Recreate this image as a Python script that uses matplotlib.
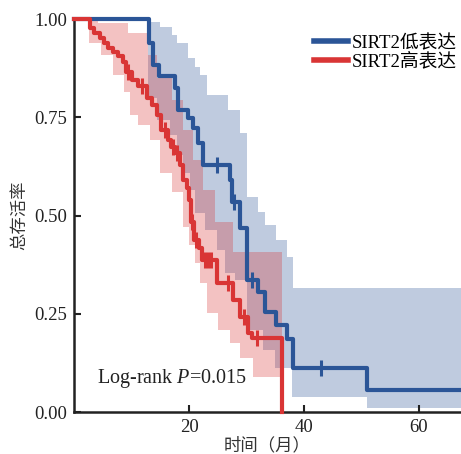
import numpy as np
import matplotlib
matplotlib.use("Agg")
import matplotlib.pyplot as plt

plt.rcParams['font.family'] = ['Liberation Serif', 'Noto Sans CJK SC']
plt.rcParams['mathtext.fontset'] = 'custom'
plt.rcParams['mathtext.rm'] = 'Liberation Serif'
plt.rcParams['mathtext.it'] = 'Liberation Serif:italic'

# ---- data ----
labels = ['SIRT2低表达', 'SIRT2高表达']
colors = ['#2b5597', '#d93535']
x_end = 67.3

# low expression (blue)
low_t = [0, 13.0, 13.7, 14.8, 17.6, 18.1, 19.8, 20.7, 21.6, 22.4, 27.1, 27.4, 28.9, 30.1, 32.0, 33.2, 35.1, 37.0, 38.1, 51.0]
low_s = [1.0, 0.939, 0.883, 0.855, 0.824, 0.768, 0.748, 0.723, 0.684, 0.628, 0.590, 0.534, 0.468, 0.336, 0.305, 0.254, 0.221, 0.186, 0.112, 0.056]
low_cens = [24.9, 27.8, 31.0, 43.0]
low_up_t = [0, 13.2, 15.0, 17.0, 17.9, 19.8, 21.0, 21.9, 23.1, 26.8, 28.9, 30.0, 32.0, 33.2, 35.1, 37.0, 38.1]
low_up_v = [1.0, 0.993, 0.98, 0.959, 0.938, 0.90, 0.879, 0.857, 0.807, 0.768, 0.71, 0.548, 0.51, 0.476, 0.438, 0.395, 0.316]
low_lo_t = [0, 12.9, 14.4, 16.7, 17.9, 19.0, 20.2, 21.0, 22.8, 24.9, 26.3, 28.0, 30.1, 32.9, 35.0, 37.9, 51.0]
low_lo_v = [1.0, 0.80, 0.743, 0.705, 0.654, 0.608, 0.565, 0.506, 0.463, 0.412, 0.354, 0.336, 0.209, 0.158, 0.112, 0.038, 0.01]

# high expression (red)
high_t = [0, 2.8, 3.5, 4.5, 5.2, 5.9, 6.8, 7.7, 8.5, 9.0, 10.1, 11.1, 12.7, 13.6, 14.4, 15.1, 16.3, 16.9,
          17.6, 18.4, 19.0, 19.7, 20.0, 20.3, 20.9, 21.7, 22.3, 24.9, 27.7, 28.9, 30.3, 31.0, 36.1]
high_s = [1.0, 0.977, 0.964, 0.952, 0.939, 0.926, 0.916, 0.906, 0.891, 0.865, 0.845, 0.830, 0.799, 0.781, 0.756, 0.718, 0.692, 0.674,
          0.659, 0.628, 0.590, 0.570, 0.539, 0.483, 0.438, 0.417, 0.387, 0.328, 0.285, 0.242, 0.201, 0.188, 0.0]
high_cens = [9.4, 11.8, 15.8, 17.3, 17.9, 20.5, 21.2, 22.8, 23.3, 23.8, 26.8, 29.6, 31.8]
high_up_t = [0, 4.2, 9.4, 12.9, 14.4, 17.0, 19.0, 20.7, 22.4, 24.5, 27.7]
high_up_v = [1.0, 0.99, 0.964, 0.908, 0.85, 0.794, 0.718, 0.641, 0.565, 0.483, 0.407]
high_lo_t = [0, 2.6, 4.7, 6.8, 8.7, 9.7, 11.1, 13.2, 15.0, 17.0, 19.0, 20.0, 21.0, 21.9, 23.1, 25.0, 27.1, 28.9, 31.1]
high_lo_v = [1.0, 0.94, 0.908, 0.857, 0.814, 0.756, 0.73, 0.692, 0.608, 0.56, 0.47, 0.425, 0.38, 0.328, 0.252, 0.209, 0.176, 0.137, 0.089]
high_band_end = 36.1

xticks = [20, 40, 60]
yticks = [0.0, 0.25, 0.5, 0.75, 1.0]
ytick_labels = ['0.00', '0.25', '0.50', '0.75', '1.00']
pvalue_text = r'Log-rank $\mathit{P}$=0.015'


def step_val(t, v, x):
    idx = np.searchsorted(np.asarray(t), x, side='right') - 1
    return np.asarray(v)[idx]


fig = plt.figure(figsize=(4.61, 4.54), dpi=100)
ax = fig.add_axes([0.1605, 0.0925, 0.8395, 0.8656])


def draw_band(ax, up_t, up_v, lo_t, lo_v, end, color):
    grid = np.unique(np.concatenate([up_t, lo_t, [end]]))
    grid = grid[grid <= end]
    up = step_val(up_t, up_v, grid)
    lo = step_val(lo_t, lo_v, grid)
    ax.fill_between(grid, lo, up, step='post', color=color, alpha=0.3, lw=0)


draw_band(ax, low_up_t, low_up_v, low_lo_t, low_lo_v, x_end, colors[0])
draw_band(ax, high_up_t, high_up_v, high_lo_t, high_lo_v, high_band_end, colors[1])

series = [(low_t, low_s, low_cens, x_end), (high_t, high_s, high_cens, high_band_end)]
for (t, s, cens, end), c, lab in zip(series, colors, labels):
    tt = list(t) + [end]
    ss = list(s) + [s[-1]]
    ax.step(tt, ss, where='post', color=c, lw=3.0, label=lab, clip_on=False, zorder=3)
    cy = step_val(t, s, np.asarray(cens))
    ax.plot(cens, cy, ls='none', marker='|', ms=11, mew=2.2, color=c, zorder=4, clip_on=False)

ax.set_xlim(0, x_end)
ax.set_ylim(0, 1.0)
ax.set_xticks(xticks)
ax.set_yticks(yticks)
ax.set_yticklabels(ytick_labels)
ax.tick_params(direction='in', length=5, width=1.5, labelsize=13.5, colors='#222222', pad=5)
for sp in ['top', 'right']:
    ax.spines[sp].set_visible(False)
for sp in ['left', 'bottom']:
    ax.spines[sp].set_linewidth(1.8)
    ax.spines[sp].set_color('#222222')

ax.set_xlabel('时间（月）', fontsize=12.5, color='#333333', labelpad=1)
ax.set_ylabel('总存活率', fontsize=12.5, color='#333333', labelpad=4)

ax.text(4.0, 0.084, pvalue_text, fontsize=14.5, color='#222222', va='center', ha='left')

leg = ax.legend(loc='upper right', bbox_to_anchor=(1.01, 0.98), frameon=False, fontsize=13.5,
                handlelength=1.8, handletextpad=0.25, labelspacing=0.05, borderaxespad=0)
for h in leg.get_lines():
    h.set_linewidth(4)

fig.savefig('out.png', dpi=100)
